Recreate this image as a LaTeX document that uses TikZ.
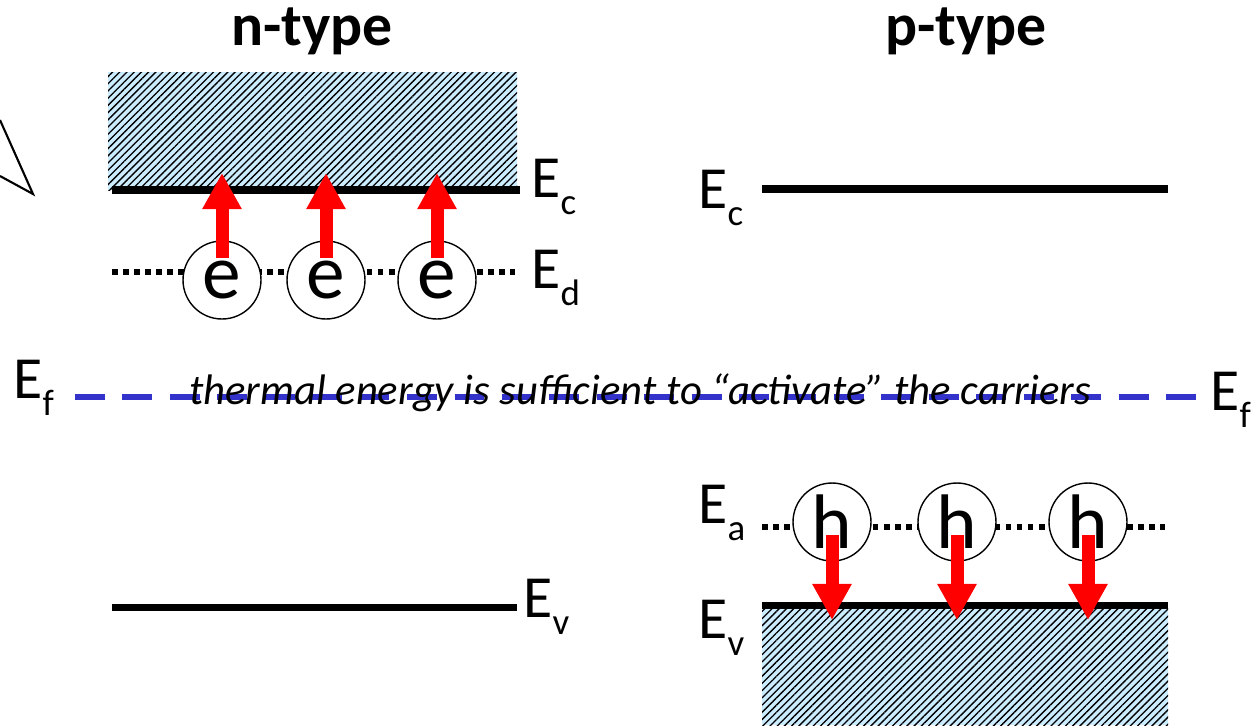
\documentclass[tikz,border=0pt]{standalone}
\usepackage{fontspec}
\setmainfont{Carlito}
\usepackage{xcolor}
\usepackage{tikz}
\usetikzlibrary{arrows.meta,patterns.meta}

\definecolor{bandblue}{RGB}{204,236,255}
\definecolor{fermiblue}{RGB}{51,51,204}
\newcommand{\lvl}[1]{E\raisebox{-10pt}{\fontsize{21}{21}\selectfont #1}}

\begin{document}
\begin{tikzpicture}[x=0.02cm, y=-0.02cm,
  band/.style={pattern={Lines[angle=45,distance=2.9pt,line width=0.75pt]}, pattern color=black},
  edge/.style={line width=4pt},
  dots/.style={line width=3.3pt, dash pattern=on 3.3pt off 3pt},
  lbl/.style={font=\fontsize{34}{34}\selectfont, inner sep=0pt, anchor=base west},
  title/.style={font=\fontsize{34}{34}\selectfont\bfseries, inner sep=0pt, anchor=base},
  carrier/.style={circle, draw, thick, fill=white, minimum size=1.56cm, inner sep=0pt, font=\fontsize{44}{44}\selectfont},
  exc/.style={red, line width=7.4pt, -{Triangle[length=20.5pt, width=21pt]}}
]
\useasboundingbox (0,0) rectangle (1255,725);

% titles
\node[title] (ntitle) at (312,45) {n-type};
\node[title] (ptitle) at (966,45) {p-type};

% n-type side
\fill[bandblue] (108,72) rectangle (517,190);
\fill[band] (108,72) rectangle (517,190);
\draw[edge] (112,190) -- (520,190);
\draw[dots] (112,272) -- (515,272);
\draw[edge] (112,607) -- (517,607);
\node[lbl] (nEc) at (531,197) {\lvl{c}};
\node[lbl] (nEd) at (531,288) {\lvl{d}};
\node[lbl] (nEv) at (523,617) {\lvl{v}};
\coordinate (ntip) at (0,173);
\foreach \i/\x in {1/222,2/326,3/437}{
  \node[carrier] (e\i) at (\x,280) {e};
}
\foreach \i in {1,2,3}{
  \draw[exc] ([yshift=12.5pt]e\i.center) -- (e\i |- ntip);
}

% p-type side
\fill[bandblue] (762,605) rectangle (1168,725);
\fill[band] (762,605) rectangle (1168,725);
\draw[edge] (762,189) -- (1168,189);
\draw[dots] (762,527) -- (1165,527);
\draw[edge] (762,605) -- (1168,605);
\node[lbl] (pEc) at (698,208) {\lvl{c}};
\node[lbl] (pEa) at (698,523) {\lvl{a}};
\node[lbl] (pEv) at (698,638) {\lvl{v}};
\coordinate (ptip) at (0,620);
\foreach \i/\x in {1/832,2/957,3/1088}{
  \node[carrier] (h\i) at (\x,522) {h};
}
\foreach \i in {1,2,3}{
  \draw[exc] ([yshift=-7.4pt]h\i.center) -- (h\i |- ptip);
}

% Fermi level
\draw[fermiblue, line width=3.4pt, dash pattern=on 17pt off 10pt] (75,397) -- (1205,397);
\node[lbl] (fEl) at (13,398) {\lvl{f}};
\node[lbl] (fEr) at (1210,410) {\lvl{f}};
\node[inner sep=0pt, anchor=base, font=\fontsize{24.3}{24.3}\selectfont\itshape] (note) at (640,404)
  {thermal energy is sufficient to “activate” the carriers};

% partial triangle at left edge
\draw[line width=1.2pt, line join=miter] (0,120) -- (33,194) -- (0,176);
\end{tikzpicture}
\end{document}
